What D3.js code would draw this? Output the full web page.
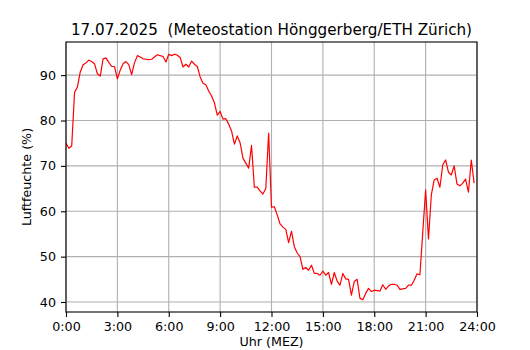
<!DOCTYPE html>
<html>
<head>
<meta charset="utf-8">
<script src="https://cdn.jsdelivr.net/npm/d3@7"></script>
<style>
  body { margin: 0; background: #fff; }
  text { font-family: "DejaVu Sans", sans-serif; fill: #000; }
</style>
</head>
<body>
<div id="chart"></div>
<script>
// Relative humidity, 10-minute values from 0:00 to 23:50
const humidity = [
  75.0, 73.9, 74.4, 86.2, 87.4, 90.7, 92.3, 92.7, 93.3, 93.0, 92.5, 90.3,
  89.8, 93.6, 93.8, 92.8, 91.9, 91.9, 89.2, 91.1, 92.5, 93.0, 92.3, 90.1,
  92.7, 94.3, 94.0, 93.6, 93.5, 93.4, 93.5, 94.0, 94.5, 94.3, 94.1, 92.9,
  94.6, 94.3, 94.6, 94.4, 93.9, 91.8, 92.4, 91.8, 93.1, 92.4, 91.9, 89.6,
  88.2, 87.9, 86.5, 85.4, 83.9, 81.2, 82.0, 80.3, 80.4, 79.2, 77.7, 74.8,
  76.6, 75.1, 71.7, 70.6, 69.5, 74.5, 65.3, 65.3, 64.5, 63.8, 65.0, 77.2,
  60.9, 61.0, 59.2, 57.2, 56.5, 56.0, 53.1, 55.6, 52.2, 50.8, 50.0, 47.2,
  47.6, 47.0, 48.1, 46.3, 46.3, 45.9, 46.8, 45.9, 46.5, 43.9, 46.5, 44.6,
  43.7, 46.3, 45.1, 45.0, 41.5, 44.5, 45.0, 40.8, 40.5, 41.9, 43.0, 42.3,
  42.6, 42.5, 42.4, 43.8, 42.8, 43.5, 43.9, 43.9, 43.7, 42.8, 42.9, 43.0,
  43.7, 43.7, 44.8, 46.2, 46.0, 55.4, 64.7, 53.9, 63.6, 66.9, 67.3, 65.3,
  70.2, 71.3, 68.6, 68.0, 70.0, 66.0, 65.6, 66.2, 67.1, 64.2, 71.3, 66.2
];
const stepMinutes = 10;
const xTicks = [0, 3, 6, 9, 12, 15, 18, 21, 24];
const xTickLabels = ["0:00", "3:00", "6:00", "9:00", "12:00", "15:00", "18:00", "21:00", "24:00"];
const yTicks = [40, 50, 60, 70, 80, 90];

const title = "17.07.2025  (Meteostation Hönggerberg/ETH Zürich)";

const width = 530, height = 350;
const margin = { top: 42, right: 53, bottom: 38, left: 66 };
const innerW = width - margin.left - margin.right;
const innerH = height - margin.top - margin.bottom;
const tickFont = "12.7px";

const svg = d3.select("#chart").append("svg")
  .attr("width", width)
  .attr("height", height);

const g = svg.append("g")
  .attr("transform", `translate(${margin.left},${margin.top})`);

const data = humidity.map((v, i) => ({ t: i * stepMinutes / 60, v: v }));

// matplotlib-style autoscale: 5% padding around data range
const lo = d3.min(humidity), hi = d3.max(humidity);
const pad = (hi - lo) * 0.05;

const x = d3.scaleLinear().domain([0, 24]).range([0, innerW]);
const y = d3.scaleLinear().domain([lo - pad, hi + pad]).range([innerH, 0]);

// grid
g.append("g").selectAll("line")
  .data(xTicks)
  .enter().append("line")
  .attr("x1", d => x(d)).attr("x2", d => x(d))
  .attr("y1", 0).attr("y2", innerH)
  .attr("stroke", "#b0b0b0").attr("stroke-width", 1.1);

g.append("g").selectAll("line")
  .data(yTicks)
  .enter().append("line")
  .attr("x1", 0).attr("x2", innerW)
  .attr("y1", d => y(d)).attr("y2", d => y(d))
  .attr("stroke", "#b0b0b0").attr("stroke-width", 1.1);

// humidity line
const line = d3.line()
  .x(d => x(d.t))
  .y(d => y(d.v));

g.append("path")
  .datum(data)
  .attr("fill", "none")
  .attr("stroke", "#ff0000")
  .attr("stroke-width", 1.2)
  .attr("stroke-linejoin", "round")
  .attr("d", line);

// axes
const xAxis = d3.axisBottom(x)
  .tickValues(xTicks)
  .tickFormat((d, i) => xTickLabels[i])
  .tickSize(5).tickPadding(5);

const yAxis = d3.axisLeft(y)
  .tickValues(yTicks)
  .tickSize(5).tickPadding(5);

const gx = g.append("g")
  .attr("transform", `translate(0,${innerH})`)
  .call(xAxis);

const gy = g.append("g").call(yAxis);

[gx, gy].forEach(a => {
  a.select(".domain").remove();
  a.selectAll("line").attr("stroke", "#000").attr("stroke-width", 1.1);
  a.selectAll("text").style("font-family", "DejaVu Sans, sans-serif")
    .style("font-size", tickFont).attr("fill", "#000");
});

// frame
g.append("rect")
  .attr("width", innerW).attr("height", innerH)
  .attr("fill", "none").attr("stroke", "#000").attr("stroke-width", 1.1);

// labels
svg.append("text")
  .attr("x", margin.left + innerW / 2)
  .attr("y", 35)
  .attr("text-anchor", "middle")
  .style("font-size", "15.2px")
  .style("white-space", "pre")
  .text(title);

svg.append("text")
  .attr("x", margin.left + innerW / 2)
  .attr("y", 346)
  .attr("text-anchor", "middle")
  .style("font-size", tickFont)
  .text("Uhr (MEZ)");

svg.append("text")
  .attr("transform", `translate(31,${margin.top + innerH / 2}) rotate(-90)`)
  .attr("text-anchor", "middle")
  .style("font-size", tickFont)
  .text("Luftfeuchte (%)");
</script>
</body>
</html>
